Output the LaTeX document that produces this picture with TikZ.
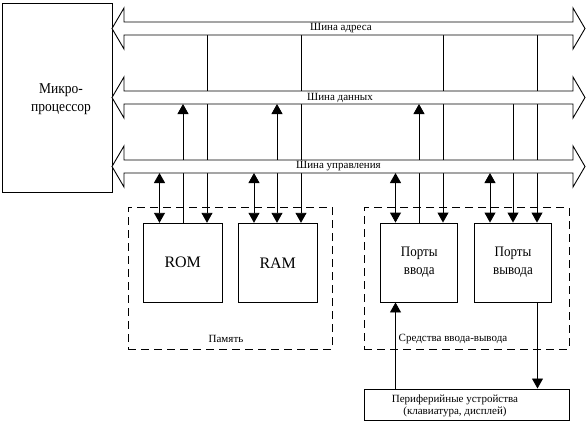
\documentclass[tikz,border=0pt]{standalone}
\usepackage{fontspec}
\setmainfont{Liberation Serif}
\newfontfamily\narrowserif[FakeStretch=0.9]{Liberation Serif}
\usetikzlibrary{arrows.meta}
\begin{document}
\begin{tikzpicture}[x=1pt,y=-1pt,line width=0.9pt,
  box/.style={draw,fill=white,inner sep=0pt,align=center,font=\narrowserif\fontsize{14.5}{18}\selectfont},
  group/.style={draw,dash pattern=on 8pt off 5pt,inner sep=0pt},
  small/.style={font=\fontsize{11}{12.5}\selectfont,inner sep=0pt,align=center},
  tip/.style={-{Triangle[length=10pt,width=11pt]}},
  dbl/.style={{Triangle[length=10pt,width=11pt]}-{Triangle[length=10pt,width=11pt]}},
  pics/busshape/.style={code={
    \draw[fill=white] (112,0) -- (124,-20.5) -- (124,-6.5) -- (573,-6.5) -- (573,-20.5)
      -- (585,0) -- (573,20.5) -- (573,6.5) -- (124,6.5) -- (124,20.5) -- cycle;}}]
\useasboundingbox (0,0) rectangle (587,423);
% dashed groups
\node[group,minimum width=204,minimum height=141.3] (mem) at (230.3,278.35) {};
\node[group,minimum width=204.7,minimum height=141.3] (io) at (466.65,278.35) {};
\node[small] (memlabel) at (226,339) {Память};
\node[small] (iolabel) at (453,339) {Средства ввода-вывода};
% main blocks
\node[box,minimum width=110,minimum height=189] (cpu) at (57.5,98) {};
\node[inner sep=0pt,text width=100pt,align=center,font=\narrowserif\fontsize{15}{18}\selectfont] (cputext) at (61,99) {Микро-\\процессор};
\node[box,minimum width=79,minimum height=79,font=\fontsize{16}{19}\selectfont] (rom) at (182.75,262.75) {ROM};
\node[box,minimum width=79,minimum height=79,font=\fontsize{16}{19}\selectfont] (ram) at (277.75,262.75) {RAM};
\node[box,minimum width=77,minimum height=79] (inp) at (419.25,262.5) {Порты\\ввода};
\node[box,minimum width=77,minimum height=79] (outp) at (513,262.5) {Порты\\вывода};
\node[box,minimum width=205,minimum height=31.7] (periph) at (466.8,404.8) {};
\node[small] (periphtext) at (455,406) {Периферийные устройства\\(клавиатура, дисплей)};
% bus edges
\coordinate (aB) at (0,35);
\coordinate (dB) at (0,104);
\coordinate (cB) at (0,173);
% ROM
\draw[dbl] (cB -| 159.5,0) -- (rom.north -| 159.5,0);
\draw[tip] (rom.north -| 183,0) -- (dB -| 183,0);
\draw[tip] (aB -| 207,0) -- (rom.north -| 207,0);
% RAM
\draw[dbl] (cB -| 254,0) -- (ram.north -| 254,0);
\draw[dbl] (dB -| 277,0) -- (ram.north -| 277,0);
\draw[tip] (aB -| 301,0) -- (ram.north -| 301,0);
% input ports
\draw[dbl] (cB -| 395.5,0) -- (inp.north -| 395.5,0);
\draw[tip] (inp.north -| 419,0) -- (dB -| 419,0);
\draw[tip] (aB -| 443,0) -- (inp.north -| 443,0);
% output ports
\draw[dbl] (cB -| 490,0) -- (outp.north -| 490,0);
\draw[tip] (dB -| 513,0) -- (outp.north -| 513,0);
\draw[tip] (aB -| 537,0) -- (outp.north -| 537,0);
% peripherals
\draw[tip] (outp.south -| 537.5,0) -- (periph.north -| 537.5,0);
\draw[tip] (periph.north -| 395.5,0) -- (inp.south -| 395.5,0);
% buses
\pic at (0,28.5) {busshape};
\pic at (0,97.5) {busshape};
\pic at (0,166.5) {busshape};
\node[small] (alabel) at (341,28.5) {Шина адреса};
\node[small] (dlabel) at (340,97.5) {Шина данных};
\node[small] (clabel) at (338.5,166.5) {Шина управления};
\end{tikzpicture}
\end{document}
